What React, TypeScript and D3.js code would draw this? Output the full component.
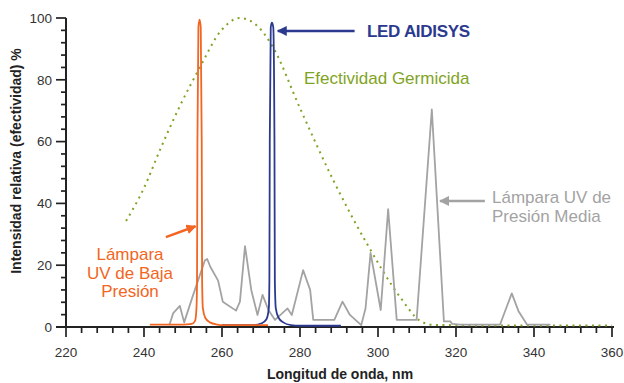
import React from 'react';
import * as d3 from 'd3';

// wavelength (nm), relative intensity (%)
const lowPressure: [number, number][] = [
  [241.5, 0.8], [250, 0.8], [252.2, 1], [253.1, 2], [253.45, 6], [253.6, 15], [253.7, 60], [253.95, 97],
  [254.25, 99.5], [254.55, 97], [254.8, 60], [254.9, 15], [255.1, 6], [255.7, 3], [256.9, 1.5], [258.7, 0.8], [260.5, 0.6], [271.8, 0.6],
];
const ledAidisys: [number, number][] = [
  [260, 0.6], [268, 0.6], [270.2, 1.2], [271.4, 2.5], [272.0, 6], [272.15, 15], [272.25, 60], [272.5, 97],
  [272.8, 98.5], [273.15, 97], [273.45, 60], [273.55, 15], [273.8, 6], [274.5, 3], [275.7, 1.5], [277.7, 0.6], [280, 0.4], [290.5, 0.4],
];
const mediumPressure: [number, number][] = [
  [246.5, 0.6], [247.5, 4.5], [249.2, 6.8], [250.3, 1.5], [252.5, 10], [255.6, 21.5], [256.2, 22],
  [257, 19.5], [259, 15], [260.2, 8.2], [263.6, 5.3], [264.6, 8.2], [265.9, 26.2], [267.5, 12],
  [269.1, 3.9], [270.4, 10.4], [271.9, 5.5], [273.6, 2.3], [276.8, 6], [277.9, 3.9], [280.8, 18.4],
  [282.6, 12], [283.4, 2.3], [288.8, 2.3], [290.9, 8.2], [292.8, 3.9], [295.7, 0.6], [296.8, 6],
  [298.1, 24], [300.7, 5.5], [302.6, 38.1], [304.8, 2.3], [309.9, 2.3], [313.8, 70.4], [316.9, 1.8],
  [318.6, 1.8], [319, 1], [321, 0.8], [331.3, 0.8], [334.3, 10.9], [336, 5.2], [338.2, 0.8], [344.2, 0.8],
];
const germicidal: [number, number][] = [
  [235.4, 34.3], [240, 45], [244.1, 57.3], [249, 71], [254.4, 84.2], [259.5, 95.5], [264.6, 100],
  [269, 97.5], [273, 90.7], [280, 70.8], [288.5, 47.6], [297.1, 27.1], [305.6, 9.8], [310.8, 2],
  [314.2, 0.7], [330, 0.5], [360, 0.5],
];

const xTickLabels = [220, 240, 260, 280, 300, 320, 340, 360];
const yTickLabels = [0, 20, 40, 60, 80, 100];

const ORANGE = '#f26522';
const BLUE = '#2b3a8f';
const GRAY = '#a3a3a3';
const GREEN = '#7fa324';
const FONT = '"Liberation Sans", Arial, sans-serif';

const App = () => {
  const W = 624;
  const H = 383;
  const x = d3.scaleLinear().domain([220, 360]).range([66, 612]);
  const y = d3.scaleLinear().domain([0, 100]).range([327, 18]);

  const line = (curve: d3.CurveFactory) =>
    d3.line<[number, number]>().x(d => x(d[0])).y(d => y(d[1])).curve(curve);

  const xMinor = d3.range(220, 361, 4);
  const yMinor = d3.range(0, 101, 4);

  return (
    <svg width={W} height={H} style={{ position: 'absolute', left: 0, top: 0, background: '#fff' }} fontFamily={FONT}>
      <defs>
        {[['arr-blue', BLUE], ['arr-gray', GRAY], ['arr-orange', ORANGE]].map(([id, c]) => (
          <marker key={id} id={id} viewBox="0 0 10 10" refX="9" refY="5" markerWidth="4" markerHeight="4" orient="auto">
            <path d="M0,0 L10,5 L0,10 z" fill={c} />
          </marker>
        ))}
      </defs>

      {/* axes */}
      {yMinor.map(v => (
        <line key={'yt' + v} x1={x(220) - (v % 20 === 0 ? 10 : 5)} x2={x(220)} y1={y(v)} y2={y(v)} stroke="#222" strokeWidth={1.7} />
      ))}
      {xMinor.map(v => (
        <line key={'xt' + v} x1={x(v)} x2={x(v)} y1={y(0)} y2={y(0) + ((v - 220) % 20 === 0 ? 10 : 6)} stroke="#222" strokeWidth={1.7} />
      ))}
      <line x1={x(220)} x2={x(220)} y1={y(100)} y2={y(0)} stroke="#222" strokeWidth={2} />
      <line x1={x(220) - 10} x2={x(360) + 2} y1={y(0)} y2={y(0)} stroke="#222" strokeWidth={2} />

      {yTickLabels.map(v => (
        <text key={'yl' + v} x={x(220) - 14} y={y(v)} dy="0.36em" textAnchor="end" fontSize={13.5} fill="#333">{v}</text>
      ))}
      {xTickLabels.map(v => (
        <text key={'xl' + v} x={x(v)} y={357} textAnchor="middle" fontSize={13.5} fill="#333">{v}</text>
      ))}

      <text transform="translate(21,161) rotate(-90)" textAnchor="middle" fontSize={14} fontWeight="bold" fill="#222">
        Intensidad relativa (efectividad) %
      </text>
      <text x={340} y={379} textAnchor="middle" fontSize={14} fontWeight="bold" fill="#222">Longitud de onda, nm</text>

      {/* series */}
      <path d={line(d3.curveMonotoneX)(germicidal) || ''} fill="none" stroke={GREEN} strokeWidth={2} strokeDasharray="2,4.5" />
      <path d={line(d3.curveLinear)(mediumPressure) || ''} fill="none" stroke={GRAY} strokeWidth={1.8} strokeLinejoin="round" />
      <path d={line(d3.curveMonotoneX)(ledAidisys) || ''} fill="none" stroke={BLUE} strokeWidth={1.8} />
      <path d={line(d3.curveMonotoneX)(lowPressure) || ''} fill="none" stroke={ORANGE} strokeWidth={1.8} />

      {/* annotations */}
      <line x1={x(294)} y1={y(95.8)} x2={x(274.3)} y2={y(95.8)} stroke={BLUE} strokeWidth={2.5} markerEnd="url(#arr-blue)" />
      <text x={367} y={37} fontSize={17} fontWeight="bold" fill={BLUE} letterSpacing={-0.3}>LED AIDISYS</text>

      <text x={304} y={84} fontSize={17} fill={GREEN}>Efectividad Germicida</text>

      <line x1={x(327.4)} y1={y(40.8)} x2={x(315.9)} y2={y(40.8)} stroke={GRAY} strokeWidth={2.5} markerEnd="url(#arr-gray)" />
      <text x={492} y={203} fontSize={17} fill={GRAY}>
        <tspan x={492}>Lámpara UV de</tspan>
        <tspan x={492} dy={19}>Presión Media</tspan>
      </text>

      <line x1={x(245.6)} y1={y(29.1)} x2={x(253.2)} y2={y(32.6)} stroke={ORANGE} strokeWidth={2.5} markerEnd="url(#arr-orange)" />
      <text x={130} y={260} fontSize={17} fill={ORANGE} textAnchor="middle">
        <tspan x={130}>Lámpara</tspan>
        <tspan x={130} dy={19}>UV de Baja</tspan>
        <tspan x={130} dy={18}>Presión</tspan>
      </text>
    </svg>
  );
};

export default App;
